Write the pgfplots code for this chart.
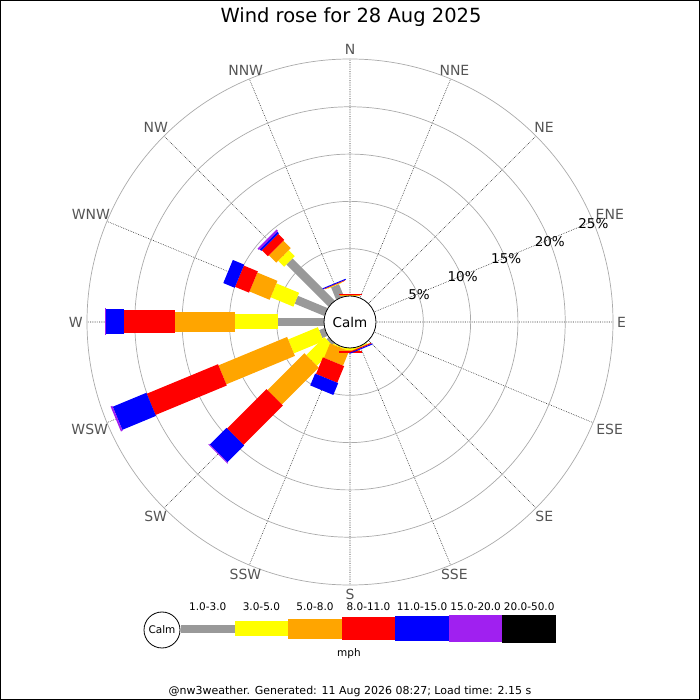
\documentclass[border=0pt]{standalone}
\usepackage{pgfplots}
\pgfplotsset{compat=1.18}
\usepackage{pgfplotstable}
\usepgfplotslibrary{polar}
\usepackage{fontspec}
\setmainfont{DejaVu Sans}
\definecolor{cgray}{HTML}{999999}
\definecolor{cyel}{HTML}{FFFF00}
\definecolor{corange}{HTML}{FFA500}
\definecolor{cred}{HTML}{FF0000}
\definecolor{cblue}{HTML}{0000FF}
\definecolor{cpurple}{HTML}{A020F0}
\definecolor{cblack}{HTML}{000000}
\definecolor{ring}{HTML}{AAAAAA}
\definecolor{lab}{HTML}{555555}

% polar angle (deg, ccw from east); cumulative percentages per speed class
\pgfplotstableread{
ang   c0 c1   c2   c3    c4    c5    c6
90    0  0    0.10 0.15  0.25  0.25  0.25
292.5 0  0    0.10 0.15  0.25  0.35  0.35
270   0  0    0.20 0.35  0.55  0.55  0.55
247.5 0  0.05 0.15 1.80  3.70  5.05  5.05
225   0  0.30 3.00 8.50  14.40 16.90 17.00
202.5 0  0.60 4.00 11.85 20.00 23.85 24.05
180   0  4.90 9.40 15.80 21.10 23.00 23.10
157.5 0  3.40 6.00 8.30  9.90  11.20 11.20
135   0  6.30 7.20 8.30  9.20  9.45  9.65
112.5 0  1.40 1.45 1.50  1.55  1.65  1.65
}\windtab

\begin{document}
\begin{tikzpicture}[x=1bp,y=1bp]
\path[use as bounding box] (0,0) rectangle (700,700);
\coordinate (C) at (350,378);
\pgfplotstablegetrowsof{\windtab}
\pgfmathtruncatemacro\nrows{\pgfplotsretval-1}
\begin{polaraxis}[
  at={(C)}, anchor=origin,
  scale only axis, width=526bp, height=526bp,
  xmin=0, xmax=360, ymin=0, ymax=27.8,
  xtick={0,22.5,...,337.5}, xticklabels={},
  ytick={7.75,12.75,17.75,22.75}, yticklabels={},
  xmajorgrids, ymajorgrids,
  x grid style={black!85, line width=0.55bp, dash pattern=on 0.7bp off 1.1bp},
  y grid style={ring, line width=0.7bp},
  x axis line style={ring, line width=0.7bp},
  y axis line style={draw=none},
  major tick length=0pt,
]
\foreach \k/\col/\w in {1/cgray/8.5,2/cyel/15,3/corange/20.5,4/cred/23,5/cblue/25,6/cpurple/27}{
  \foreach \row in {0,...,\nrows}{
    \pgfmathtruncatemacro\km{\k-1}
    \pgfplotstablegetelem{\row}{ang}\of\windtab \let\ang\pgfplotsretval
    \pgfplotstablegetelem{\row}{c\km}\of\windtab \let\va\pgfplotsretval
    \pgfplotstablegetelem{\row}{c\k}\of\windtab \let\vb\pgfplotsretval
    \pgfmathtruncatemacro\ok{\vb>\va}
    \ifnum\ok=1
      \pgfmathsetmacro\ra{\va+2.75}
      \pgfmathsetmacro\rb{\vb+2.75}
      \edef\temp{\noexpand\addplot[draw=\col, line width=\w bp, line cap=butt, forget plot] coordinates {(\ang,\ra) (\ang,\rb)};}
      \temp
    \fi
  }
}
\end{polaraxis}
% calm circle
\draw[black, line width=0.8bp, fill=white] (C) circle[radius=26];
\node at (C) {\fontsize{13.5bp}{16bp}\selectfont Calm};
% direction labels
\foreach \a/\t in {90/N,67.5/NNE,45/NE,22.5/ENE,0/E,-22.5/ESE,-45/SE,-67.5/SSE,-90/S,-112.5/SSW,-135/SW,-157.5/WSW,180/W,157.5/WNW,135/NW,112.5/NNW}{
  \pgfmathsetmacro\an{\a+180}
  \path (C) ++(\a:267) node[text=lab, inner sep=0pt, anchor=\an, font=\fontsize{14bp}{16bp}\selectfont] {\t};
}
% ring labels
\foreach \p/\r in {5/74.5,10/121.5,15/168.5,20/215.5,25/262.5}{
  \path (C) ++(22:\r) node[inner sep=0pt, font=\fontsize{13.5bp}{16bp}\selectfont] {\p\%};
}
% title
\node[anchor=base] at (351,677.5) {\fontsize{19.5bp}{23bp}\selectfont Wind rose for 28 Aug 2025};
% legend
\draw[black, line width=0.8bp, fill=white] (162,70) circle[radius=18];
\node at (162,70) {\fontsize{10.5bp}{12bp}\selectfont Calm};
\foreach \i/\col/\h/\t in {0/cgray/8.5/1.0-3.0,1/cyel/15/3.0-5.0,2/corange/20.5/5.0-8.0,3/cred/23/8.0-11.0,4/cblue/25/11.0-15.0,5/cpurple/27/15.0-20.0,6/cblack/28.5/20.0-50.0}{
  \pgfmathsetmacro\xa{181+\i*53.57}
  \pgfmathsetmacro\xb{181+(\i+1)*53.57}
  \pgfmathsetmacro\xc{181+(\i+0.5)*53.57}
  \fill[\col] (\xa,{71-\h/2}) rectangle (\xb,{71+\h/2});
  \node at (\xc,93) {\fontsize{10.5bp}{12bp}\selectfont \t};
}
\node at (349,46) {\fontsize{10.5bp}{12bp}\selectfont mph};
\node at (350,8.5) {\fontsize{11bp}{13bp}\selectfont @nw3weather. Generated: 11 Aug 2026 08:27; Load time: 2.15 s};
\draw[black, line width=1.2bp] (0.6,0.6) rectangle (699.4,699.4);
\end{tikzpicture}
\end{document}
